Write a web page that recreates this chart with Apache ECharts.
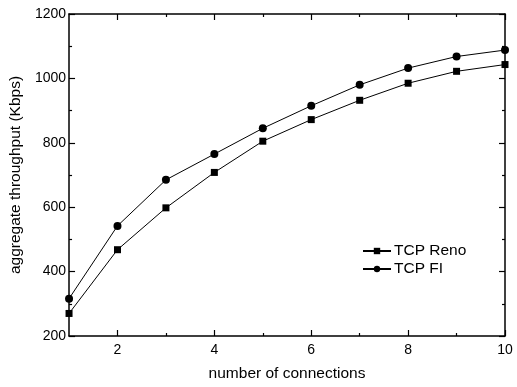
<!DOCTYPE html>
<html>
<head>
<meta charset="utf-8">
<script src="https://cdn.jsdelivr.net/npm/echarts@6/dist/echarts.min.js"></script>
<style>
  html, body { margin: 0; padding: 0; background: #fff; }
  #chart { width: 517px; height: 387px; }
</style>
</head>
<body>
<div id="chart"></div>
<script>
// Aggregate throughput vs. number of concurrent connections
const connections = [1, 2, 3, 4, 5, 6, 7, 8, 9, 10];
const renoThroughput = [270, 468, 598, 708, 805, 872, 932, 985, 1022, 1043];
const fiThroughput = [316, 542, 685, 765, 845, 915, 980, 1032, 1068, 1088];
const xMajorTicks = [2, 4, 6, 8, 10];
const xMinorTicks = [3, 5, 7, 9];
const seriesNames = ['TCP Reno', 'TCP FI'];

const font = 'Liberation Sans, Arial, Helvetica, sans-serif';
const ink = '#000';

function xAxisPair(position, withLabels) {
  const major = {
    type: 'value', position: position, min: 1, max: 10, interval: 1,
    axisLine: { show: true, onZero: false, lineStyle: { color: ink, width: 1.5 } },
    axisTick: { show: true, inside: true, length: 6, customValues: xMajorTicks, lineStyle: { color: ink, width: 1.2 } },
    axisLabel: withLabels
      ? { show: true, customValues: xMajorTicks, color: ink, fontFamily: font, fontSize: 14, margin: 7 }
      : { show: false },
    splitLine: { show: false }
  };
  if (withLabels) {
    major.name = 'number of connections';
    major.nameLocation = 'middle';
    major.nameGap = 30;
    major.nameTextStyle = { color: ink, fontFamily: font, fontSize: 15.5 };
  }
  const minor = {
    type: 'value', position: position, min: 1, max: 10, interval: 1,
    axisLine: { show: false },
    axisTick: { show: true, inside: true, length: 3, customValues: xMinorTicks, lineStyle: { color: ink, width: 1.2 } },
    axisLabel: { show: false },
    splitLine: { show: false }
  };
  return [major, minor];
}

function yAxis(position, withLabels) {
  const ax = {
    type: 'value', position: position, min: 200, max: 1200, interval: 200,
    axisLine: { show: true, onZero: false, lineStyle: { color: ink, width: 1.5 } },
    axisTick: { show: true, inside: true, length: 6, lineStyle: { color: ink, width: 1.2 } },
    minorTick: { show: true, splitNumber: 2, length: 3, lineStyle: { color: ink, width: 1.2 } },
    axisLabel: withLabels
      ? { show: true, color: ink, fontFamily: font, fontSize: 14, margin: 3, formatter: v => String(v) }
      : { show: false },
    splitLine: { show: false },
    minorSplitLine: { show: false }
  };
  if (withLabels) {
    ax.name = 'aggregate throughput (Kbps)';
    ax.nameLocation = 'middle';
    ax.nameGap = 40;
    ax.nameTextStyle = { color: ink, fontFamily: font, fontSize: 15.5 };
  }
  return ax;
}

const xAxes = xAxisPair('bottom', true).concat(xAxisPair('top', false));

const chart = echarts.init(document.getElementById('chart'), null, { renderer: 'canvas' });
chart.setOption({
  backgroundColor: '#fff',
  animation: false,
  grid: { left: 68, right: 12, top: 14, bottom: 51 },
  legend: {
    orient: 'vertical',
    left: 357, top: 238,
    itemWidth: 28, itemHeight: 8, itemGap: 2,
    textStyle: { color: ink, fontFamily: font, fontSize: 15.5, padding: [0, 0, 0, -2] },
    data: seriesNames
  },
  xAxis: xAxes,
  yAxis: [yAxis('left', true), yAxis('right', false)],
  series: [
    {
      name: seriesNames[0], type: 'line', xAxisIndex: 0, yAxisIndex: 0,
      data: connections.map((c, i) => [c, renoThroughput[i]]),
      symbol: 'rect', symbolSize: 7,
      lineStyle: { color: ink, width: 1 },
      itemStyle: { color: ink },
      z: 3
    },
    {
      name: seriesNames[1], type: 'line', xAxisIndex: 0, yAxisIndex: 0,
      data: connections.map((c, i) => [c, fiThroughput[i]]),
      symbol: 'circle', symbolSize: 8,
      lineStyle: { color: ink, width: 1 },
      itemStyle: { color: ink },
      z: 3
    }
  ]
});
</script>
</body>
</html>
